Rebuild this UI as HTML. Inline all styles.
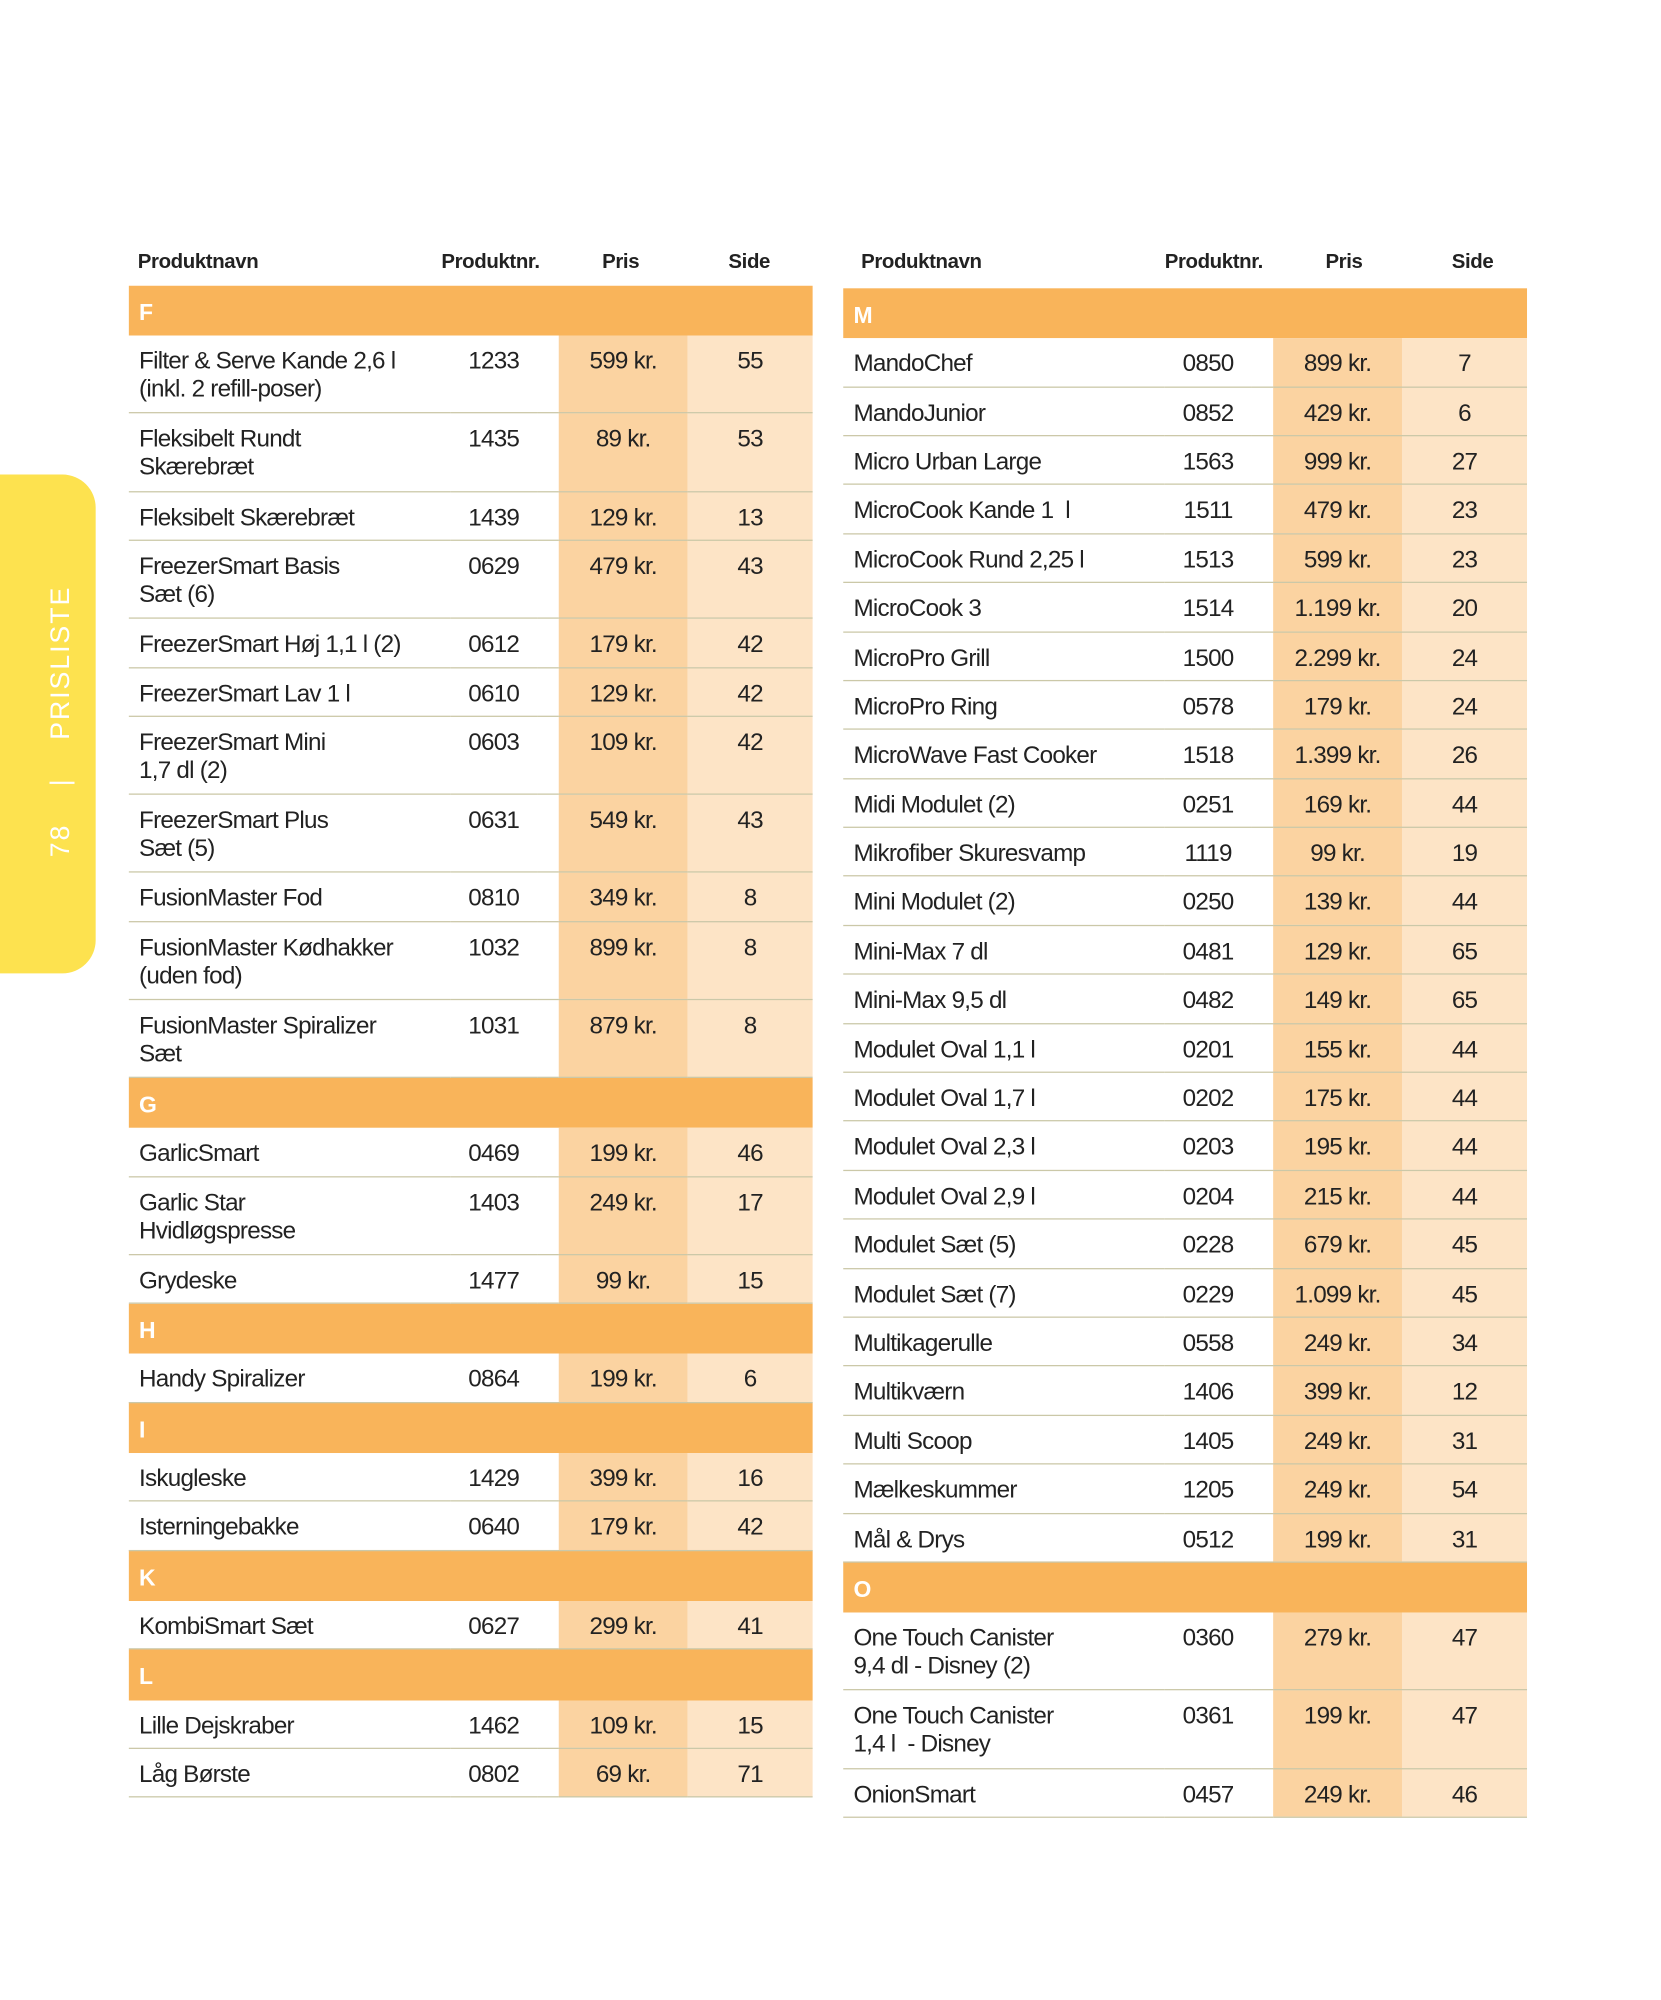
<!DOCTYPE html>
<html><head><meta charset="utf-8"><style>
html,body{margin:0;padding:0;background:#fff;}
body{width:1661px;height:2000px;overflow:hidden;position:relative;}
#w{position:absolute;left:0;top:0;width:1302px;height:1568px;transform:scale(1.2757);transform-origin:0 0;font-family:"Liberation Sans",sans-serif;color:#222;}
table{position:absolute;border-collapse:collapse;table-layout:fixed;width:536px;}
td{padding:0;vertical-align:top;font-size:19px;letter-spacing:-0.6px;line-height:22px;border-bottom:1.5px solid #cbc8a8;white-space:nowrap;}
td.n{padding:10px 0 0 8px;}
td.c{text-align:center;padding-top:10px;}
td.p{background:#fbd3a1;text-align:center;padding-top:10px;}
td.s{background:#fde4c6;text-align:center;padding-top:10px;}
tr.h td{background:#f9b45a;color:#fff;font-weight:bold;font-size:18px;padding:10px 0 0 8px;border-bottom:none;height:29.2px;}
tr.r td{height:27.4px;}
tr.d td{height:50.2px;}
.hd{position:absolute;top:197px;font-weight:bold;font-size:16px;letter-spacing:-0.3px;}
#tab{position:absolute;left:0;top:372px;width:75px;height:391px;background:#fde24f;border-radius:0 26px 26px 0;}
#lbl{position:absolute;left:36px;top:672px;transform:rotate(-90deg);transform-origin:0 0;color:#fff;font-size:21px;letter-spacing:1.5px;white-space:nowrap;}
</style></head><body><div id="w">
<div id="tab"></div>
<div id="lbl">78 &nbsp;&nbsp;&nbsp;|&nbsp;&nbsp;&nbsp; PRISLISTE</div>
<div class="hd" style="left:108px">Produktnavn</div><div class="hd" style="left:346px">Produktnr.</div><div class="hd" style="left:472px">Pris</div><div class="hd" style="left:571px">Side</div>
<div class="hd" style="left:675px">Produktnavn</div><div class="hd" style="left:913px">Produktnr.</div><div class="hd" style="left:1039px">Pris</div><div class="hd" style="left:1138px">Side</div>

<table style="left:101px;top:224px"><colgroup><col style="width:252px"><col style="width:68px"><col style="width:17px"><col style="width:101px"><col style="width:98px"></colgroup>
<tr class="h"><td colspan="5">F</td></tr>
<tr class="d"><td class="n">Filter &amp; Serve Kande 2,6 l<br>(inkl. 2 refill-poser)</td><td class="c">1233</td><td></td><td class="p">599 kr.</td><td class="s">55</td></tr>
<tr class="d"><td class="n">Fleksibelt Rundt<br>Skærebræt</td><td class="c">1435</td><td></td><td class="p">89 kr.</td><td class="s">53</td></tr>
<tr class="r"><td class="n">Fleksibelt Skærebræt</td><td class="c">1439</td><td></td><td class="p">129 kr.</td><td class="s">13</td></tr>
<tr class="d"><td class="n">FreezerSmart Basis<br>Sæt (6)</td><td class="c">0629</td><td></td><td class="p">479 kr.</td><td class="s">43</td></tr>
<tr class="r"><td class="n">FreezerSmart Høj 1,1 l (2)</td><td class="c">0612</td><td></td><td class="p">179 kr.</td><td class="s">42</td></tr>
<tr class="r"><td class="n">FreezerSmart Lav 1 l</td><td class="c">0610</td><td></td><td class="p">129 kr.</td><td class="s">42</td></tr>
<tr class="d"><td class="n">FreezerSmart Mini<br>1,7 dl (2)</td><td class="c">0603</td><td></td><td class="p">109 kr.</td><td class="s">42</td></tr>
<tr class="d"><td class="n">FreezerSmart Plus<br>Sæt (5)</td><td class="c">0631</td><td></td><td class="p">549 kr.</td><td class="s">43</td></tr>
<tr class="r"><td class="n">FusionMaster Fod</td><td class="c">0810</td><td></td><td class="p">349 kr.</td><td class="s">8</td></tr>
<tr class="d"><td class="n">FusionMaster Kødhakker<br>(uden fod)</td><td class="c">1032</td><td></td><td class="p">899 kr.</td><td class="s">8</td></tr>
<tr class="d"><td class="n">FusionMaster Spiralizer<br>Sæt</td><td class="c">1031</td><td></td><td class="p">879 kr.</td><td class="s">8</td></tr>
<tr class="h"><td colspan="5">G</td></tr>
<tr class="r"><td class="n">GarlicSmart</td><td class="c">0469</td><td></td><td class="p">199 kr.</td><td class="s">46</td></tr>
<tr class="d"><td class="n">Garlic Star<br>Hvidløgspresse</td><td class="c">1403</td><td></td><td class="p">249 kr.</td><td class="s">17</td></tr>
<tr class="r"><td class="n">Grydeske</td><td class="c">1477</td><td></td><td class="p">99 kr.</td><td class="s">15</td></tr>
<tr class="h"><td colspan="5">H</td></tr>
<tr class="r"><td class="n">Handy Spiralizer</td><td class="c">0864</td><td></td><td class="p">199 kr.</td><td class="s">6</td></tr>
<tr class="h"><td colspan="5">I</td></tr>
<tr class="r"><td class="n">Iskugleske</td><td class="c">1429</td><td></td><td class="p">399 kr.</td><td class="s">16</td></tr>
<tr class="r"><td class="n">Isterningebakke</td><td class="c">0640</td><td></td><td class="p">179 kr.</td><td class="s">42</td></tr>
<tr class="h"><td colspan="5">K</td></tr>
<tr class="r"><td class="n">KombiSmart Sæt</td><td class="c">0627</td><td></td><td class="p">299 kr.</td><td class="s">41</td></tr>
<tr class="h"><td colspan="5">L</td></tr>
<tr class="r"><td class="n">Lille Dejskraber</td><td class="c">1462</td><td></td><td class="p">109 kr.</td><td class="s">15</td></tr>
<tr class="r"><td class="n">Låg Børste</td><td class="c">0802</td><td></td><td class="p">69 kr.</td><td class="s">71</td></tr>
</table>

<table style="left:661px;top:226px"><colgroup><col style="width:252px"><col style="width:68px"><col style="width:17px"><col style="width:101px"><col style="width:98px"></colgroup>
<tr class="h"><td colspan="5">M</td></tr>
<tr class="r"><td class="n">MandoChef</td><td class="c">0850</td><td></td><td class="p">899 kr.</td><td class="s">7</td></tr>
<tr class="r"><td class="n">MandoJunior</td><td class="c">0852</td><td></td><td class="p">429 kr.</td><td class="s">6</td></tr>
<tr class="r"><td class="n">Micro Urban Large</td><td class="c">1563</td><td></td><td class="p">999 kr.</td><td class="s">27</td></tr>
<tr class="r"><td class="n">MicroCook Kande 1&nbsp; l</td><td class="c">1511</td><td></td><td class="p">479 kr.</td><td class="s">23</td></tr>
<tr class="r"><td class="n">MicroCook Rund 2,25 l</td><td class="c">1513</td><td></td><td class="p">599 kr.</td><td class="s">23</td></tr>
<tr class="r"><td class="n">MicroCook 3</td><td class="c">1514</td><td></td><td class="p">1.199 kr.</td><td class="s">20</td></tr>
<tr class="r"><td class="n">MicroPro Grill</td><td class="c">1500</td><td></td><td class="p">2.299 kr.</td><td class="s">24</td></tr>
<tr class="r"><td class="n">MicroPro Ring</td><td class="c">0578</td><td></td><td class="p">179 kr.</td><td class="s">24</td></tr>
<tr class="r"><td class="n">MicroWave Fast Cooker</td><td class="c">1518</td><td></td><td class="p">1.399 kr.</td><td class="s">26</td></tr>
<tr class="r"><td class="n">Midi Modulet (2)</td><td class="c">0251</td><td></td><td class="p">169 kr.</td><td class="s">44</td></tr>
<tr class="r"><td class="n">Mikrofiber Skuresvamp</td><td class="c">1119</td><td></td><td class="p">99 kr.</td><td class="s">19</td></tr>
<tr class="r"><td class="n">Mini Modulet (2)</td><td class="c">0250</td><td></td><td class="p">139 kr.</td><td class="s">44</td></tr>
<tr class="r"><td class="n">Mini-Max 7 dl</td><td class="c">0481</td><td></td><td class="p">129 kr.</td><td class="s">65</td></tr>
<tr class="r"><td class="n">Mini-Max 9,5 dl</td><td class="c">0482</td><td></td><td class="p">149 kr.</td><td class="s">65</td></tr>
<tr class="r"><td class="n">Modulet Oval 1,1 l</td><td class="c">0201</td><td></td><td class="p">155 kr.</td><td class="s">44</td></tr>
<tr class="r"><td class="n">Modulet Oval 1,7 l</td><td class="c">0202</td><td></td><td class="p">175 kr.</td><td class="s">44</td></tr>
<tr class="r"><td class="n">Modulet Oval 2,3 l</td><td class="c">0203</td><td></td><td class="p">195 kr.</td><td class="s">44</td></tr>
<tr class="r"><td class="n">Modulet Oval 2,9 l</td><td class="c">0204</td><td></td><td class="p">215 kr.</td><td class="s">44</td></tr>
<tr class="r"><td class="n">Modulet Sæt (5)</td><td class="c">0228</td><td></td><td class="p">679 kr.</td><td class="s">45</td></tr>
<tr class="r"><td class="n">Modulet Sæt (7)</td><td class="c">0229</td><td></td><td class="p">1.099 kr.</td><td class="s">45</td></tr>
<tr class="r"><td class="n">Multikagerulle</td><td class="c">0558</td><td></td><td class="p">249 kr.</td><td class="s">34</td></tr>
<tr class="r"><td class="n">Multikværn</td><td class="c">1406</td><td></td><td class="p">399 kr.</td><td class="s">12</td></tr>
<tr class="r"><td class="n">Multi Scoop</td><td class="c">1405</td><td></td><td class="p">249 kr.</td><td class="s">31</td></tr>
<tr class="r"><td class="n">Mælkeskummer</td><td class="c">1205</td><td></td><td class="p">249 kr.</td><td class="s">54</td></tr>
<tr class="r"><td class="n">Mål &amp; Drys</td><td class="c">0512</td><td></td><td class="p">199 kr.</td><td class="s">31</td></tr>
<tr class="h"><td colspan="5">O</td></tr>
<tr class="d"><td class="n">One Touch Canister<br>9,4 dl - Disney (2)</td><td class="c">0360</td><td></td><td class="p">279 kr.</td><td class="s">47</td></tr>
<tr class="d"><td class="n">One Touch Canister<br>1,4 l&nbsp; - Disney</td><td class="c">0361</td><td></td><td class="p">199 kr.</td><td class="s">47</td></tr>
<tr class="r"><td class="n">OnionSmart</td><td class="c">0457</td><td></td><td class="p">249 kr.</td><td class="s">46</td></tr>
</table>
</div></body></html>
